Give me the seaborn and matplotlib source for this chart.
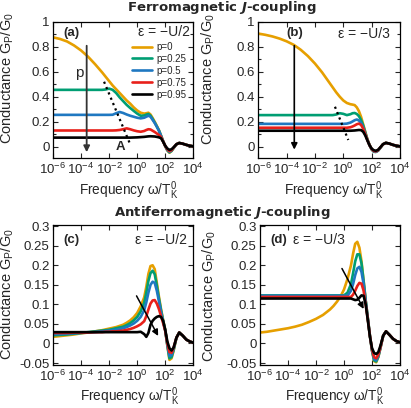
import numpy as np
import pandas as pd
import matplotlib
matplotlib.use("Agg")
import matplotlib.pyplot as plt
import seaborn as sns
from matplotlib.ticker import FixedLocator, FixedFormatter, NullLocator

# ---------------- data (log10 of omega/T_K^0) ----------------
logw = [-6, -5.5, -5, -4.5, -4, -3.5, -3, -2.5, -2.25, -2, -1.75, -1.5, -1.25, -1,
        -0.75, -0.5, -0.25, 0, 0.25, 0.5, 0.65, 0.8, 0.95, 1.1, 1.25, 1.4, 1.55,
        1.7, 1.85, 2.0, 2.15, 2.3, 2.45, 2.6, 2.8, 3.0, 3.25, 3.5, 3.75, 4]

p_labels = ["p=0", "p=0.25", "p=0.5", "p=0.75", "p=0.95"]

# (a) ferromagnetic, eps=-U/2
a_p0 = [0.875, 0.862, 0.842, 0.81, 0.77, 0.72, 0.66, 0.595, 0.56, 0.525, 0.49, 0.46, 0.43, 0.40,
        0.37, 0.345, 0.315, 0.29, 0.272, 0.265, 0.268, 0.272, 0.258, 0.23, 0.2, 0.167, 0.133,
        0.09, 0.045, 0.005, -0.03, -0.048, -0.035, -0.01, 0.02, 0.03, 0.024, 0.015, 0.008, 0.003]
a_p25 = [0.455, 0.455, 0.455, 0.455, 0.455, 0.455, 0.455, 0.455, 0.458, 0.465, 0.455, 0.43, 0.395, 0.365,
         0.335, 0.31, 0.287, 0.265, 0.248, 0.25, 0.257, 0.262, 0.248, 0.222, 0.193, 0.162, 0.13,
         0.088, 0.044, 0.004, -0.028, -0.045, -0.033, -0.01, 0.02, 0.03, 0.024, 0.015, 0.008, 0.003]
a_p50 = [0.255, 0.255, 0.255, 0.255, 0.255, 0.255, 0.255, 0.255, 0.255, 0.255, 0.256, 0.268, 0.278, 0.27,
         0.258, 0.248, 0.24, 0.232, 0.227, 0.232, 0.24, 0.248, 0.24, 0.215, 0.19, 0.16, 0.128,
         0.087, 0.044, 0.005, -0.025, -0.04, -0.03, -0.008, 0.02, 0.03, 0.024, 0.015, 0.008, 0.003]
a_p75 = [0.13, 0.13, 0.13, 0.13, 0.13, 0.13, 0.13, 0.13, 0.13, 0.13, 0.13, 0.131, 0.134, 0.14,
         0.147, 0.14, 0.131, 0.124, 0.12, 0.126, 0.134, 0.14, 0.138, 0.128, 0.118, 0.106, 0.094,
         0.078, 0.042, 0.006, -0.02, -0.035, -0.027, -0.006, 0.02, 0.03, 0.024, 0.015, 0.008, 0.003]
a_p95 = [0.073, 0.073, 0.073, 0.073, 0.073, 0.073, 0.073, 0.073, 0.073, 0.073, 0.073, 0.073, 0.073, 0.073,
         0.073, 0.073, 0.074, 0.075, 0.077, 0.079, 0.081, 0.083, 0.084, 0.083, 0.082, 0.079, 0.075,
         0.068, 0.04, 0.008, -0.014, -0.025, -0.02, -0.004, 0.02, 0.03, 0.024, 0.015, 0.008, 0.003]

# (b) ferromagnetic, eps=-U/3
b_p0 = [0.905, 0.895, 0.882, 0.865, 0.843, 0.815, 0.775, 0.725, 0.695, 0.665, 0.63, 0.595, 0.555, 0.515,
        0.475, 0.435, 0.4, 0.37, 0.35, 0.34, 0.337, 0.333, 0.315, 0.285, 0.24, 0.18, 0.12,
        0.06, 0.015, -0.02, -0.038, -0.04, -0.03, -0.01, 0.02, 0.031, 0.025, 0.015, 0.008, 0.003]
b_p25 = [0.253, 0.253, 0.253, 0.253, 0.253, 0.253, 0.253, 0.253, 0.253, 0.253, 0.253, 0.253, 0.253, 0.253,
         0.253, 0.258, 0.268, 0.263, 0.253, 0.26, 0.268, 0.27, 0.262, 0.245, 0.215, 0.17, 0.115,
         0.057, 0.013, -0.022, -0.04, -0.042, -0.032, -0.01, 0.02, 0.031, 0.025, 0.015, 0.008, 0.003]
b_p50 = [0.183, 0.183, 0.183, 0.183, 0.183, 0.183, 0.183, 0.183, 0.183, 0.183, 0.183, 0.183, 0.183, 0.183,
         0.183, 0.183, 0.183, 0.183, 0.185, 0.193, 0.202, 0.212, 0.218, 0.21, 0.19, 0.155, 0.105,
         0.055, 0.012, -0.02, -0.037, -0.04, -0.03, -0.01, 0.02, 0.031, 0.025, 0.015, 0.008, 0.003]
b_p75 = [0.152, 0.152, 0.152, 0.152, 0.152, 0.152, 0.152, 0.152, 0.152, 0.152, 0.152, 0.152, 0.152, 0.152,
         0.152, 0.152, 0.152, 0.152, 0.152, 0.156, 0.162, 0.17, 0.18, 0.185, 0.175, 0.145, 0.1,
         0.053, 0.012, -0.018, -0.034, -0.037, -0.028, -0.008, 0.02, 0.031, 0.025, 0.015, 0.008, 0.003]
b_p95 = [0.128, 0.128, 0.128, 0.128, 0.128, 0.128, 0.128, 0.128, 0.128, 0.128, 0.128, 0.128, 0.128, 0.128,
         0.128, 0.128, 0.128, 0.128, 0.128, 0.128, 0.129, 0.13, 0.132, 0.134, 0.133, 0.12, 0.09,
         0.05, 0.012, -0.015, -0.028, -0.032, -0.025, -0.006, 0.02, 0.031, 0.025, 0.015, 0.008, 0.003]

# (c) antiferromagnetic, eps=-U/2
c_p0 = [0.017, 0.019, 0.021, 0.023, 0.026, 0.028, 0.031, 0.034, 0.036, 0.038, 0.04, 0.042, 0.045, 0.048,
        0.053, 0.059, 0.067, 0.078, 0.095, 0.118, 0.145, 0.178, 0.198, 0.2, 0.19, 0.155, 0.12,
        0.088, 0.06, 0.035, -0.005, -0.042, -0.038, -0.018, 0.015, 0.028, 0.02, 0.01, 0.005, 0.002]
c_p25 = [0.021, 0.022, 0.023, 0.025, 0.027, 0.029, 0.031, 0.033, 0.034, 0.035, 0.037, 0.039, 0.041, 0.043,
         0.047, 0.052, 0.059, 0.068, 0.082, 0.104, 0.13, 0.16, 0.18, 0.186, 0.177, 0.148, 0.115,
         0.085, 0.058, 0.034, -0.005, -0.038, -0.035, -0.016, 0.015, 0.028, 0.02, 0.01, 0.005, 0.002]
c_p50 = [0.024, 0.024, 0.025, 0.026, 0.027, 0.028, 0.029, 0.031, 0.032, 0.033, 0.034, 0.035, 0.037, 0.039,
         0.042, 0.046, 0.051, 0.058, 0.068, 0.085, 0.105, 0.13, 0.15, 0.158, 0.155, 0.135, 0.108,
         0.08, 0.056, 0.033, -0.003, -0.032, -0.03, -0.013, 0.015, 0.028, 0.02, 0.01, 0.005, 0.002]
c_p75 = [0.027, 0.027, 0.027, 0.028, 0.028, 0.028, 0.029, 0.029, 0.03, 0.03, 0.031, 0.031, 0.032, 0.033,
         0.035, 0.037, 0.04, 0.044, 0.049, 0.057, 0.07, 0.087, 0.102, 0.11, 0.111, 0.102, 0.088,
         0.07, 0.052, 0.032, 0.0, -0.022, -0.024, -0.01, 0.015, 0.028, 0.02, 0.01, 0.005, 0.002]
c_p95 = [0.029, 0.029, 0.029, 0.029, 0.029, 0.029, 0.029, 0.029, 0.029, 0.029, 0.029, 0.029, 0.029, 0.029,
         0.029, 0.029, 0.029, 0.029, 0.03, 0.024, 0.017, 0.027, 0.048, 0.058, 0.064, 0.068, 0.07,
         0.068, 0.058, 0.035, 0.005, -0.012, -0.018, -0.01, 0.015, 0.028, 0.02, 0.01, 0.005, 0.002]

# (d) antiferromagnetic, eps=-U/3
d_p0 = [0.028, 0.03, 0.033, 0.036, 0.039, 0.043, 0.048, 0.055, 0.059, 0.063, 0.068, 0.073, 0.08, 0.087,
        0.096, 0.107, 0.12, 0.138, 0.165, 0.2, 0.23, 0.255, 0.26, 0.245, 0.21, 0.16, 0.11,
        0.065, 0.02, -0.018, -0.045, -0.048, -0.035, -0.012, 0.02, 0.031, 0.022, 0.012, 0.006, 0.003]
d_p25 = [0.123, 0.123, 0.123, 0.123, 0.123, 0.123, 0.123, 0.123, 0.123, 0.123, 0.123, 0.123, 0.123, 0.123,
         0.123, 0.123, 0.123, 0.123, 0.13, 0.152, 0.18, 0.21, 0.228, 0.228, 0.205, 0.16, 0.11,
         0.065, 0.02, -0.018, -0.043, -0.046, -0.034, -0.012, 0.02, 0.031, 0.022, 0.012, 0.006, 0.003]
d_p50 = [0.122, 0.122, 0.122, 0.122, 0.122, 0.122, 0.122, 0.122, 0.122, 0.122, 0.122, 0.122, 0.122, 0.122,
         0.122, 0.122, 0.122, 0.122, 0.122, 0.135, 0.152, 0.175, 0.192, 0.196, 0.183, 0.152, 0.108,
         0.065, 0.02, -0.017, -0.04, -0.043, -0.032, -0.011, 0.02, 0.031, 0.022, 0.012, 0.006, 0.003]
d_p75 = [0.119, 0.119, 0.119, 0.119, 0.119, 0.119, 0.119, 0.119, 0.119, 0.119, 0.119, 0.119, 0.119, 0.119,
         0.119, 0.119, 0.119, 0.119, 0.119, 0.119, 0.125, 0.135, 0.147, 0.155, 0.153, 0.135, 0.1,
         0.062, 0.02, -0.015, -0.035, -0.038, -0.029, -0.01, 0.02, 0.031, 0.022, 0.012, 0.006, 0.003]
d_p95 = [0.115, 0.115, 0.115, 0.115, 0.115, 0.115, 0.115, 0.115, 0.115, 0.115, 0.115, 0.115, 0.115, 0.115,
         0.115, 0.115, 0.115, 0.115, 0.115, 0.115, 0.113, 0.111, 0.112, 0.117, 0.123, 0.122, 0.1,
         0.06, 0.018, -0.012, -0.024, -0.027, -0.022, -0.006, 0.02, 0.031, 0.022, 0.012, 0.006, 0.003]

panels = {
    "a": [a_p0, a_p25, a_p50, a_p75, a_p95],
    "b": [b_p0, b_p25, b_p50, b_p75, b_p95],
    "c": [c_p0, c_p25, c_p50, c_p75, c_p95],
    "d": [d_p0, d_p25, d_p50, d_p75, d_p95],
}
eps_text = {"a": "ε = −U/2", "b": "ε = −U/3", "c": "ε = −U/2", "d": "ε = −U/3"}
colors = ["#E69F00", "#009E73", "#1F78C1", "#E8201A", "#000000"]

# ---------------- style ----------------
sns.set_style("ticks")
plt.rcParams["font.family"] = ["Liberation Sans", "DejaVu Sans"]
plt.rcParams["mathtext.fontset"] = "custom"
plt.rcParams["mathtext.rm"] = "Liberation Sans"
plt.rcParams["mathtext.it"] = "Liberation Sans:italic"
plt.rcParams["mathtext.bfit"] = "DejaVu Sans:italic:bold"
plt.rcParams["axes.unicode_minus"] = False

W, H = 411, 408
fig = plt.figure(figsize=(W / 100, H / 100), dpi=100)

def rect(l, t, r, b):
    return [l / W, 1 - b / H, (r - l) / W, (b - t) / H]

axes = {
    "a": fig.add_axes(rect(53, 21.7, 193.3, 158)),
    "b": fig.add_axes(rect(258.3, 21.7, 400, 158)),
    "c": fig.add_axes(rect(53, 225, 193.3, 365)),
    "d": fig.add_axes(rect(260, 225, 400, 365)),
}
ylab_pos = {"a": (-0.262, 0.59), "b": (-0.292, 0.58), "c": (-0.262, 0.51), "d": (-0.30, 0.49)}
xlab_pos = {"a": (0.54, -0.158), "b": (0.535, -0.158), "c": (0.545, -0.148), "d": (0.53, -0.148)}

omega = [10.0 ** v for v in logw]
xt = [1e-6, 1e-4, 1e-2, 1, 1e2, 1e4]
xtl = [r"10$^{-6}$", r"10$^{-4}$", r"10$^{-2}$", r"10$^{0}$", r"10$^{2}$", r"10$^{4}$"]

for key, ax in axes.items():
    rows = []
    for lab, ser in zip(p_labels, panels[key]):
        assert len(ser) == len(logw), (key, lab, len(ser))
        for w, g in zip(omega, ser):
            rows.append({"omega": w, "G": g, "p": lab})
    df = pd.DataFrame(rows)
    sns.lineplot(data=df, x="omega", y="G", hue="p", hue_order=p_labels,
                 palette=colors, estimator=None, lw=1.9, legend=False, ax=ax)
    ax.set_xscale("log")
    ax.set_xlim(1e-6, 1e4)
    ax.xaxis.set_major_locator(FixedLocator(xt))
    ax.xaxis.set_major_formatter(FixedFormatter(xtl))
    ax.xaxis.set_minor_locator(NullLocator())
    if key in "ab":
        ax.set_ylim(-0.09, 1.0)
        yt = [0, 0.2, 0.4, 0.6, 0.8, 1.0]
        ax.yaxis.set_major_locator(FixedLocator(yt))
        ax.yaxis.set_major_formatter(FixedFormatter(["0", "0.2", "0.4", "0.6", "0.8", "1"]))
        ax.yaxis.set_minor_locator(FixedLocator([0.1, 0.3, 0.5, 0.7, 0.9]))
    else:
        ax.set_ylim(-0.055, 0.303)
        yt = [-0.05, 0, 0.05, 0.1, 0.15, 0.2, 0.25, 0.3]
        ax.yaxis.set_major_locator(FixedLocator(yt))
        ax.yaxis.set_major_formatter(FixedFormatter(["-0.05", "0", "0.05", "0.1", "0.15", "0.2", "0.25", "0.3"]))
        ax.yaxis.set_minor_locator(NullLocator())
    ax.tick_params(which="both", direction="in", top=True, right=True, labelsize=9.5,
                   length=3.5, width=0.8, pad=2.5)
    ax.tick_params(which="minor", length=2.5)
    for s in ax.spines.values():
        s.set_linewidth(0.9)
        s.set_color("black")
    ax.set_xlabel(r"Frequency ω/T$_{\mathrm{K}}^{0}$", fontsize=9.8)
    ax.xaxis.set_label_coords(*xlab_pos[key])
    ax.xaxis.label.set_va("top")
    ax.set_ylabel(r"Conductance G$_{\mathrm{P}}$/G$_{0}$", fontsize=10.5)
    ax.yaxis.set_label_coords(*ylab_pos[key])

# ---------------- annotations ----------------
ax = axes["a"]
lines = ax.get_lines()[:5]
ax.legend(lines, p_labels, loc="upper left", bbox_to_anchor=(0.547, 0.866), frameon=False,
          fontsize=7, handlelength=2.1, handletextpad=0.4, labelspacing=0.2, borderpad=0.2,
          borderaxespad=0)
ax.text(0.975, 0.927, eps_text["a"], transform=ax.transAxes, ha="right", va="center", fontsize=10)
ax.text(0.075, 0.915, "(a)", transform=ax.transAxes, ha="left", va="center", fontsize=9.5, fontweight="bold")
ax.annotate("", xy=(10 ** -3.6, -0.066), xytext=(10 ** -3.6, 0.83),
            arrowprops=dict(arrowstyle="-|>", color="#333333", lw=1.3, mutation_scale=9))
ax.text(10 ** -4.1, 0.59, "p", ha="center", va="center", fontsize=11)
ax.plot([10 ** -2.36, 10 ** -0.5], [0.52, 0.02], ls=(0, (1, 1.6)), color="black", lw=1.6)
ax.text(10 ** -1.16, -0.005, "A", ha="center", va="center", fontsize=9.5, fontweight="bold")

ax = axes["b"]
ax.text(0.93, 0.91, eps_text["b"], transform=ax.transAxes, ha="right", va="center", fontsize=10)
ax.text(10 ** -3.46, 0.91, "(b)", ha="center", va="center", fontsize=9.5, fontweight="bold")
ax.annotate("", xy=(10 ** -3.46, -0.045), xytext=(10 ** -3.46, 0.83),
            arrowprops=dict(arrowstyle="-|>", color="black", lw=1.2, mutation_scale=9))
ax.plot([10 ** -0.59, 10 ** 0.35], [0.32, 0.054], ls=(0, (1, 1.6)), color="black", lw=1.6)

ax = axes["c"]
ax.text(0.955, 0.893, eps_text["c"], transform=ax.transAxes, ha="right", va="center", fontsize=10)
ax.text(0.074, 0.893, "(c)", transform=ax.transAxes, ha="left", va="center", fontsize=9.5, fontweight="bold")
ax.annotate("", xy=(10 ** 1.59, 0.013), xytext=(10 ** -0.14, 0.128),
            arrowprops=dict(arrowstyle="-|>", color="black", lw=1.1, mutation_scale=9))

ax = axes["d"]
ax.text(0.238, 0.893, eps_text["d"], transform=ax.transAxes, ha="left", va="center", fontsize=10)
ax.text(0.071, 0.893, "(d)", transform=ax.transAxes, ha="left", va="center", fontsize=9.5, fontweight="bold")
ax.annotate("", xy=(10 ** 1.5, 0.082), xytext=(10 ** -0.24, 0.198),
            arrowprops=dict(arrowstyle="-|>", color="black", lw=1.1, mutation_scale=9))

# section titles
fig.text(222 / W, 1 - 8 / H, r"Ferromagnetic $\mathbfit{J}$-coupling", ha="center", va="center",
         fontsize=9.5, fontweight="bold", family="DejaVu Sans")
fig.text(222 / W, 1 - 212 / H, r"Antiferromagnetic $\mathbfit{J}$-coupling", ha="center", va="center",
         fontsize=9.5, fontweight="bold", family="DejaVu Sans")

fig.savefig("out.png", dpi=100)
